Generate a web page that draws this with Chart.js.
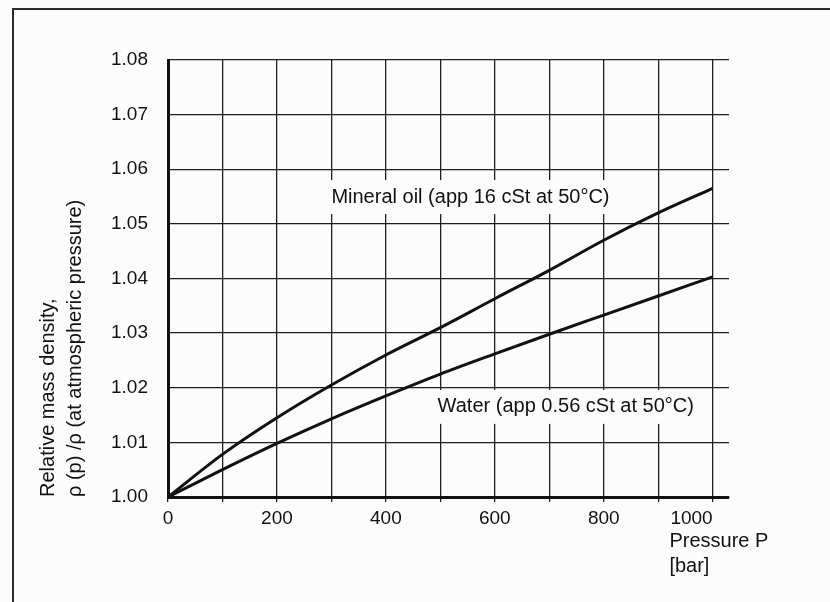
<!DOCTYPE html>
<html>
<head>
<meta charset="utf-8">
<script src="https://cdn.jsdelivr.net/npm/chart.js@4.4.1/dist/chart.umd.min.js"></script>
<style>
  html, body { margin: 0; padding: 0; background: #fcfcfc; overflow: hidden; }
  #wrap { position: relative; width: 830px; height: 602px; }
  #frame {
    position: absolute; left: 12px; top: 8px; width: 900px; height: 700px;
    border-left: 2px solid #2b2b2b; border-top: 2px solid #2b2b2b;
  }
  canvas { position: absolute; left: 0; top: 0; }
</style>
</head>
<body>
<div id="wrap">
  <div id="frame"></div>
  <canvas id="density"></canvas>
</div>
<script>
// pressure in bar
const pressure = [0, 100, 200, 300, 400, 500, 600, 700, 800, 900, 1000];
// relative mass density
const mineralOil = [1.000, 1.0078, 1.0145, 1.0205, 1.026, 1.031, 1.0363, 1.0415, 1.047, 1.052, 1.0565];
const water = [1.000, 1.005, 1.0098, 1.0143, 1.0185, 1.0225, 1.0262, 1.0298, 1.0333, 1.0368, 1.0403];

const xTickLabels = ['0', '200', '400', '600', '800', '1000'];
const yTitle = ['Relative mass density,', 'ρ (p) /ρ (at atmospheric pressure)'];
const xTitle = ['Pressure P', '[bar]'];

// curve labels: text, pressure at left edge, density at middle
const curveLabels = [
  { text: 'Mineral oil (app 16 cSt at 50°C)', x: 300, y: 1.0549 },
  { text: 'Water (app 0.56 cSt at 50°C)', x: 495, y: 1.0165 }
];

const FONT = '"Liberation Sans", Arial, Helvetica, sans-serif';
const INK = '#111';

const textPlugin = {
  id: 'textPlugin',
  afterDatasetsDraw(chart) {
    const ctx = chart.ctx;
    const xs = chart.scales.x, ys = chart.scales.y;
    ctx.save();
    ctx.font = '20px ' + FONT;
    ctx.textBaseline = 'middle';
    ctx.textAlign = 'left';
    for (const l of curveLabels) {
      const px = xs.getPixelForValue(l.x);
      const py = ys.getPixelForValue(l.y);
      const w = ctx.measureText(l.text).width;
      // paper behind the label hides the grid
      ctx.fillStyle = '#fcfcfc';
      ctx.fillRect(px - 15, py - 17, w + 30, 34);
      ctx.fillStyle = INK;
      ctx.fillText(l.text, px, py);
    }
    // x axis title, left aligned under the 1000 label
    ctx.font = '19px ' + FONT;
    const x1000 = xs.getPixelForValue(1000);
    const left = x1000 - ctx.measureText('1000').width - 1;
    ctx.font = '20px ' + FONT;
    xTitle.forEach((t, i) => {
      ctx.fillText(t, left, chart.chartArea.bottom + 44 + i * 25);
    });
    ctx.restore();
  }
};

new Chart(document.getElementById('density'), {
  type: 'line',
  data: {
    datasets: [
      {
        label: 'Mineral oil',
        data: pressure.map((p, i) => ({ x: p, y: mineralOil[i] })),
        borderColor: INK,
        borderWidth: 3,
        pointRadius: 0,
        cubicInterpolationMode: 'monotone'
      },
      {
        label: 'Water',
        data: pressure.map((p, i) => ({ x: p, y: water[i] })),
        borderColor: INK,
        borderWidth: 3,
        pointRadius: 0,
        cubicInterpolationMode: 'monotone'
      }
    ]
  },
  options: {
    responsive: true,
    maintainAspectRatio: false,
    animation: false,
    layout: { padding: { left: 0, top: 60, right: 101, bottom: 0 } },
    plugins: {
      legend: { display: false },
      tooltip: { enabled: false }
    },
    scales: {
      x: {
        type: 'linear',
        min: 0,
        max: 1030,
        afterFit: (s) => { s.height = 105; },
        grid: { color: '#1f1f1f', lineWidth: 1.3, drawTicks: true, tickLength: 5, tickColor: '#1f1f1f' },
        border: { color: INK, width: 3 },
        ticks: {
          stepSize: 100,
          includeBounds: false,
          autoSkip: false,
          maxRotation: 0,
          padding: 5,
          color: INK,
          font: { family: FONT, size: 19 },
          callback: (v) => {
            const s = String(v);
            if (!xTickLabels.includes(s)) return '';
            // the 1000 label sits left of its grid line
            return s === '1000' ? s + '        ' : s;
          }
        }
      },
      y: {
        min: 1.00,
        max: 1.08,
        afterFit: (s) => { s.width = 168; },
        grid: { color: '#1f1f1f', lineWidth: 1.3, drawTicks: false },
        border: { color: INK, width: 3 },
        ticks: {
          stepSize: 0.01,
          padding: 20,
          color: INK,
          font: { family: FONT, size: 19 },
          callback: (v) => v.toFixed(2)
        },
        title: {
          display: true,
          text: yTitle,
          align: 'start',
          color: INK,
          font: { family: FONT, size: 20, lineHeight: 1.35 },
          padding: { top: 35, bottom: 0 }
        }
      }
    }
  },
  plugins: [textPlugin]
});
</script>
</body>
</html>
